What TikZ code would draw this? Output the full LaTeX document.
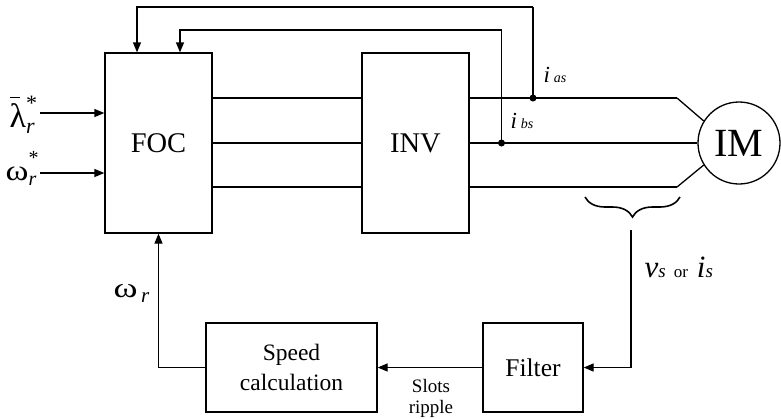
\documentclass[tikz,border=0pt]{standalone}
\usepackage{fontspec}
\setmainfont{Liberation Serif}
\usetikzlibrary{arrows.meta,decorations.pathreplacing}
\begin{document}
\begin{tikzpicture}[x=1pt,y=-1pt, line width=1.3pt,
  blk/.style={draw, line width=1.3pt, inner sep=0pt},
  arr/.style={-{Triangle[length=10pt,width=8pt]}},
  jdot/.style={circle, fill, inner sep=0pt, minimum size=7pt}]
\useasboundingbox (0,0) rectangle (781,418);
% blocks
\node[blk, minimum width=107pt, minimum height=180pt, font=\fontsize{28.5}{30}\selectfont] (foc) at (158.5,143) {FOC};
\node[blk, minimum width=107pt, minimum height=180pt, font=\fontsize{28.5}{30}\selectfont] (inv) at (415.5,143) {INV};
\node[blk, circle, minimum size=82pt, font=\fontsize{40}{42}\selectfont] (im) at (739,143) {IM};
\node[blk, minimum width=171pt, minimum height=89pt, align=center, font=\fontsize{23.5}{30}\selectfont] (sc) at (291.5,367.5) {Speed\\calculation};
\node[blk, minimum width=100pt, minimum height=89pt, font=\fontsize{25.5}{28}\selectfont] (fil) at (533,367.5) {Filter};
% coordinates
\coordinate (kA) at (677,98);
\coordinate (kC) at (677,187);
\coordinate (dAc) at (533,98);
\coordinate (dBc) at (501.5,143);
% three phase lines
\draw (foc.east |- 0,98) -- (inv.west |- 0,98);
\draw (foc.east |- 0,143) -- (inv.west |- 0,143);
\draw (foc.east |- 0,187) -- (inv.west |- 0,187);
\draw (inv.east |- 0,98) -- (dAc);
\draw (dAc) -- (kA);
\draw (kA) -- (im.148);
\draw (inv.east |- 0,143) -- (dBc);
\draw (dBc) -- (im.west);
\draw (inv.east |- 0,187) -- (kC);
\draw (kC) -- (im.212);
% current feedback
\draw (dAc) -- (533,7);
\draw[arr] (533,7) -| (foc.north -| 137,0);
\draw (dBc) -- (501.5,30);
\draw[arr] (501.5,30) -| (foc.north -| 180,0);
\node[jdot] (dA) at (dAc) {};
\node[jdot] (dB) at (dBc) {};
% reference inputs
\node[anchor=base west, inner sep=0pt] (lam) at (9,127) {\fontsize{34}{36}\selectfont\leavevmode\rlap{\raisebox{0.84em}{\rule{0.3em}{0.04em}}}λ\rlap{\raisebox{0.5em}{\fontsize{22}{22}\selectfont *}}\raisebox{-0.2em}{\fontsize{22}{22}\selectfont\itshape r}};
\node[anchor=base west, inner sep=0pt] (om) at (5,180) {\fontsize{29}{31}\selectfont\scalebox{1.2}[1]{ω}\rlap{\raisebox{0.52em}{\fontsize{20}{20}\selectfont *}}\raisebox{-0.2em}{\fontsize{20}{20}\selectfont\itshape r}};
\coordinate (lamE) at (40,113);
\coordinate (omE) at (40,173);
\draw[arr] (lamE) -- (foc.west |- lamE);
\draw[arr] (omE) -- (foc.west |- omE);
% labels of currents
\node[anchor=base west, inner sep=0pt] at (543,82) {\fontsize{23}{24}\selectfont\itshape i\,\fontsize{14}{14}\selectfont as};
\node[anchor=base west, inner sep=0pt] at (510,128) {\fontsize{23}{24}\selectfont\itshape i\,\fontsize{14}{14}\selectfont bs};
% brace and measurement path
\draw[line width=1.6pt, decorate, decoration={brace, amplitude=20pt}] (680,197) -- (585,197);
\coordinate (bt) at (631,230);
\draw[arr] (bt) |- (fil.east);
\node[anchor=base west, inner sep=0pt] at (644,277) {\fontsize{31}{32}\selectfont\itshape v\fontsize{19}{19}\selectfont s\upshape\hspace{8pt}\fontsize{17}{17}\selectfont or\hspace{9pt}\fontsize{31}{32}\selectfont\itshape i\fontsize{19}{19}\selectfont s};
% speed path
\draw[arr] (fil.west) -- (sc.east);
\node[align=center, font=\fontsize{19}{21}\selectfont, inner sep=0pt] at (431,398) {Slots\\ripple};
\draw[arr] (sc.west) -| (foc.south);
\node[anchor=base west, inner sep=0pt] at (113,297) {\fontsize{28}{33}\selectfont\scalebox{1.3}[1]{ω}\raisebox{-0.2em}{\fontsize{21}{21}\selectfont\itshape\,r}};
\end{tikzpicture}
\end{document}
